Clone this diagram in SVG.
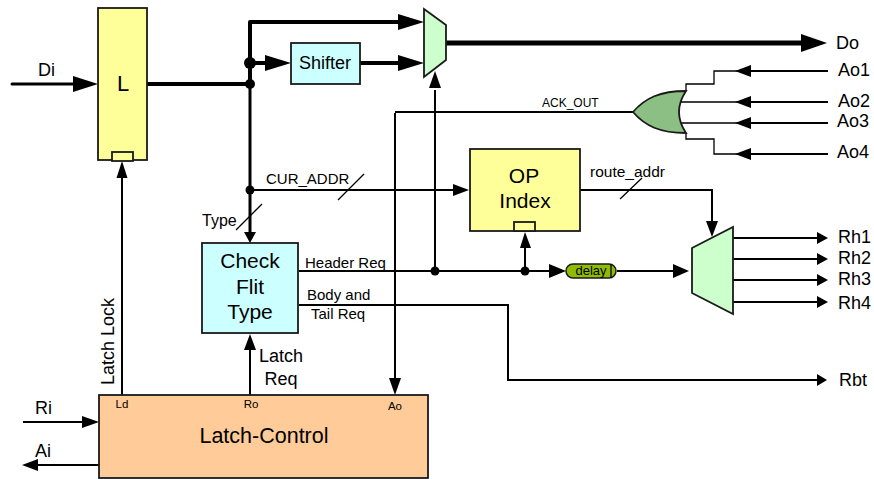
<svg xmlns="http://www.w3.org/2000/svg" width="874" height="479" viewBox="0 0 874 479">
<style>
text{font-family:"Liberation Sans",Arial,sans-serif;fill:#000}
.box{stroke:#1a1a1a;stroke-width:1.8}
.w1{fill:none;stroke:#000;stroke-width:1.3}
.w2{fill:none;stroke:#000;stroke-width:2}
.w3{fill:none;stroke:#000;stroke-width:3}
.w4{fill:none;stroke:#000;stroke-width:4}
.w5{fill:none;stroke:#000;stroke-width:5}
.c{text-anchor:middle}
</style>
<g id="connectors">
<path class="w3" d="M12 84H75" stroke-linecap="round"/><path d="M73 76L98 84L73 92Z"/>
<path class="w4" d="M147 84H250"/>
<path class="w3" d="M250 84V236"/>
<path class="w4" d="M250 84V22H400" stroke-linejoin="round"/><path d="M398 14L424 22L398 30Z"/>
<path class="w4" d="M250 63H268"/><path d="M265 55L291 63L265 71Z"/>
<path class="w4" d="M360 63H400"/><path d="M398 55L424 63L398 71Z"/>
<path class="w5" d="M445 43H805"/><path d="M801 34L827 43L801 52Z"/>
<circle cx="250" cy="63" r="6"/><circle cx="250" cy="84" r="5"/><circle cx="250" cy="190" r="4.500"/>
<circle cx="360" cy="63" r="2"/><circle cx="445" cy="43" r="2"/>
<path class="w2" d="M250 190H455"/><path d="M453 184L469 190L453 196Z"/>
<path class="w1" d="M338 200L364 174M236 230L262 204M620 199L642 178"/>
<path d="M244 232H256L250 243Z"/>
<path class="w2" d="M122 396V178"/><path d="M122 161L116.500 178H127.500Z"/>
<path class="w2" d="M250 396V348"/><path d="M250 334L244 350H256Z"/>
<path class="w2" d="M395 113V380"/><path d="M389 378H401L395 395Z"/>
<path class="w2" d="M395 112H633"/>
<path class="w2" d="M435 271V90"/><path d="M435 71L429 88H441Z"/>
<path class="w2" d="M299 271H552"/><path d="M549 264L566 271L549 278Z"/>
<path class="w2" d="M525 271V245"/><path d="M525 232L520 248H531Z"/>
<circle cx="435" cy="271" r="4.500"/><circle cx="525" cy="271" r="4.500"/>
<path class="w2" d="M617 271H676"/><path d="M673 264L689 271L673 278Z"/>
<path class="w2" d="M299 305H508V380H818"/><path d="M817 374L827 380L817 386Z"/>
<path class="w2" d="M580 190H712V224"/><path d="M706 221H718L712 237Z"/>
<path class="w2" d="M733 238H820M733 259H820M733 280H820M733 302H820"/>
<path d="M817 232L828 238L817 244ZM817 253L828 259L817 265ZM817 274L828 280L817 286ZM817 296L828 302L817 308Z"/>
<path class="w1" d="M686 91V84H714V71H738M680 102H738M680 123H738M686 133V139H714V154H738"/>
<path class="w2" d="M748 71H828M748 102H828M748 123H828M748 154H828"/>
<path d="M735 71L751 65V77ZM735 102L751 96V108ZM735 123L751 117V129ZM735 154L751 148V160Z"/>
<path class="w2" d="M23 422H85"/><path d="M82 416L99 422L82 428Z"/>
<path class="w2" d="M99 465H36"/><path d="M22 465L38 459V471Z"/>
</g>
<g id="latch"><rect class="box" x="98" y="8" width="49" height="152" fill="#ffff99"/><rect class="box" x="112" y="152" width="21" height="9" fill="#ffff99"/><text class="c" x="123" y="91" font-size="22">L</text></g>
<g id="shifter"><rect class="box" x="291" y="43" width="69" height="41" fill="#ccffff"/><text class="c" x="325" y="69" font-size="18">Shifter</text></g>
<g id="mux-top"><path class="box" d="M424 9L446 25V60L424 77Z" fill="#ccffcc"/></g>
<g id="or-gate"><path class="box" d="M633 112C645 98 660 91 686 91Q672 112 686 133C660 133 645 126 633 112Z" fill="#8cbf84"/></g>
<g id="op-index"><rect class="box" x="470" y="149" width="110" height="82" fill="#ffff99"/><rect class="box" x="514" y="222" width="21" height="9" fill="#ffff99"/><text class="c" x="524" y="183" font-size="21">OP</text><text class="c" x="525" y="208" font-size="21">Index</text></g>
<g id="check-flit"><rect class="box" x="202" y="243" width="96" height="90" fill="#ccffff"/><text class="c" x="250" y="268" font-size="21">Check</text><text class="c" x="250" y="294" font-size="21">Flit</text><text class="c" x="250" y="319" font-size="21">Type</text></g>
<g id="delay"><rect x="566" y="264" width="50" height="14" rx="7" fill="#8fbc00" stroke="#1a1a1a" stroke-width="1.500"/><path class="w1" d="M611 264V278"/><text class="c" x="591" y="275" font-size="13">delay</text></g>
<g id="mux-route"><path class="box" d="M692 248L733 227V314L692 293Z" fill="#ccffcc"/></g>
<g id="latch-control"><rect class="box" x="99" y="395" width="329" height="83" fill="#ffcc99"/><text class="c" x="264" y="443" font-size="21.500">Latch-Control</text><text class="c" x="122" y="408" font-size="11.500">Ld</text><text class="c" x="251" y="408" font-size="11.500">Ro</text><text class="c" x="395" y="410" font-size="11.500">Ao</text></g>
<g id="labels">
<text x="38" y="76" font-size="18">Di</text>
<text x="266" y="184" font-size="15">CUR_ADDR</text>
<text x="202" y="226" font-size="16">Type</text>
<text x="542" y="107" font-size="12">ACK_OUT</text>
<text x="590" y="177" font-size="15.500">route_addr</text>
<text x="305" y="268" font-size="15">Header Req</text>
<text x="307" y="300" font-size="15">Body and</text>
<text x="311" y="319" font-size="15">Tail Req</text>
<text class="c" x="281" y="362" font-size="18">Latch</text>
<text class="c" x="281" y="385" font-size="18">Req</text>
<text transform="translate(114 385) rotate(-90)" font-size="18">Latch Lock</text>
<text x="35" y="414" font-size="18">Ri</text>
<text x="35" y="457" font-size="18">Ai</text>
<text x="836" y="49" font-size="18">Do</text>
<text x="838" y="76" font-size="18">Ao1</text>
<text x="838" y="107" font-size="18">Ao2</text>
<text x="837" y="127" font-size="18">Ao3</text>
<text x="837" y="158" font-size="18">Ao4</text>
<text x="838" y="243" font-size="18">Rh1</text>
<text x="838" y="264" font-size="18">Rh2</text>
<text x="838" y="285" font-size="18">Rh3</text>
<text x="838" y="309" font-size="18">Rh4</text>
<text x="839" y="386" font-size="18">Rbt</text>
</g>
</svg>
